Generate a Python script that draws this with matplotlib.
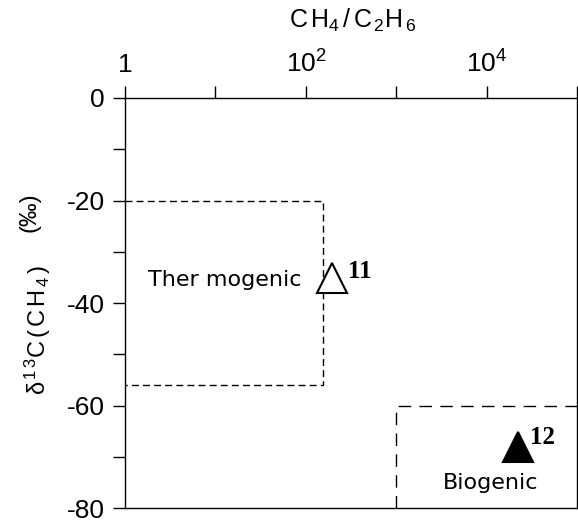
import matplotlib
matplotlib.use('Agg')
import matplotlib.pyplot as plt
from matplotlib import font_manager
from matplotlib.ticker import FixedLocator, FixedFormatter, NullLocator

_installed = {f.name for f in font_manager.fontManager.ttflist}
NARROW = 'Liberation Sans Narrow' if 'Liberation Sans Narrow' in _installed else 'Liberation Sans'

plt.rcParams['font.family'] = ['Liberation Sans', 'DejaVu Sans']
plt.rcParams['mathtext.fontset'] = 'custom'
plt.rcParams['mathtext.rm'] = 'Liberation Sans'
plt.rcParams['mathtext.it'] = 'Liberation Sans:italic'
plt.rcParams['mathtext.bf'] = 'Liberation Sans:bold'
plt.rcParams['mathtext.sf'] = NARROW

# sample points
sample_ids = ['11', '12']
ratio_c1_c2 = [194, 22300]
delta13c = [-35, -68]
sample_filled = [False, True]

# genetic fields (ratio min, ratio max, delta min, delta max)
region_names = ['Ther mogenic', 'Biogenic']
region_ratio = [(1, 153), (1000, 1e5)]
region_delta = [(-56, -20), (-80, -60)]

x_ticks = [1, 10, 100, 1000, 1e4, 1e5]
x_tick_labels = ['1', '', '$10^2$', '', '$10^4$', '']
y_ticks = [0, -10, -20, -30, -40, -50, -60, -70, -80]
y_tick_labels = ['0', '', '-20', '', '-40', '', '-60', '', '-80']

W, H = 578, 522
fig = plt.figure(figsize=(W / 100, H / 100), dpi=100)
ax = fig.add_axes([125 / W, 1 - 508.3 / H, 452.3 / W, 410.3 / H])
ax.set_xscale('log')
ax.set_xlim(1, 1e5)
ax.set_ylim(-80, 0)

# dashed field boxes
(x0, x1), (y0, y1) = region_ratio[0], region_delta[0]
ax.plot([x0, x1, x1, x0], [y1, y1, y0, y0], color='black', lw=1.0,
        linestyle=(0, (5, 3)))
(x0, x1), (y0, y1) = region_ratio[1], region_delta[1]
ax.plot([x0, x0, x1], [y0, y1, y1], color='black', lw=1.0,
        linestyle=(0, (9, 6)))

ax.text(90, -35.5, region_names[0], ha='right', va='center', fontsize=16,
        family='DejaVu Sans')
ax.text(11000, -75, region_names[1], ha='center', va='center', fontsize=16,
        family='DejaVu Sans')

label_offsets = [(11.5, 4.3), (8.4, 7)]
for sid, xv, yv, filled, off in zip(sample_ids, ratio_c1_c2, delta13c,
                                    sample_filled, label_offsets):
    ax.plot(xv, yv, marker='^', ms=21, mec='black', mew=1.5,
            mfc='black' if filled else 'white', linestyle='none', zorder=5)
    ax.annotate(sid, (xv, yv), xytext=off, textcoords='offset points',
                ha='left', va='center', fontsize=18, fontweight='bold',
                family=['Liberation Serif', 'DejaVu Serif'])

ax.xaxis.tick_top()
ax.xaxis.set_major_locator(FixedLocator(x_ticks))
ax.xaxis.set_major_formatter(FixedFormatter(x_tick_labels))
ax.xaxis.set_minor_locator(NullLocator())
ax.yaxis.set_major_locator(FixedLocator(y_ticks))
ax.yaxis.set_major_formatter(FixedFormatter(y_tick_labels))

ax.tick_params(axis='both', direction='out', length=8.5, width=1.0,
               labelsize=19, colors='black')
ax.tick_params(axis='x', pad=6.5)
ax.tick_params(axis='y', pad=6)
for sp in ax.spines.values():
    sp.set_linewidth(1.0)

# axis titles placed in pixel positions of the original layout
fig.text(353 / W, 1 - 28 / H, r'$\mathsf{C\,H_{4}\,/\,C_{\,2}H_{\,6}}$',
         fontsize=18, ha='center', va='baseline')
fig.text(46 / W, 1 - 330 / H,
         r'$\mathrm{\delta^{\,1\,3}C\,(\,C\,H_{\,4}\,)}$',
         fontsize=17, rotation=90, rotation_mode='anchor',
         ha='center', va='baseline')
fig.text(35 / W, 1 - 212 / H, '(‰)', fontsize=17, rotation=90,
         rotation_mode='anchor', ha='center', va='baseline')

fig.savefig('out.png', dpi=100)
